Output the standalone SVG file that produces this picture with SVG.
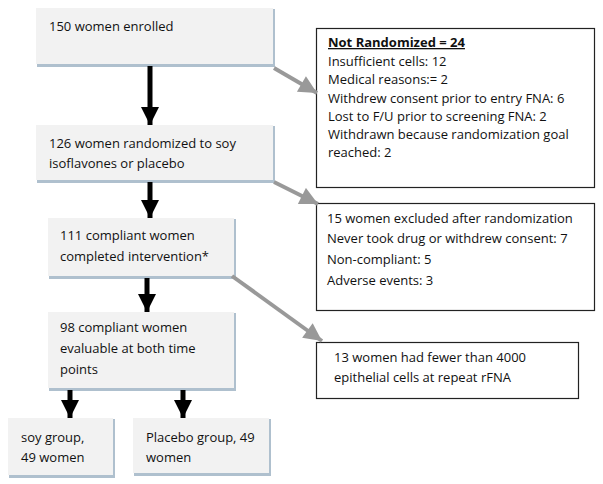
<svg xmlns="http://www.w3.org/2000/svg" width="603" height="484" viewBox="0 0 603 484">
<defs>
<style>
text{font-family:"Open Sans","Liberation Sans",sans-serif;font-size:13px;fill:#111}
.box{fill:#f2f2f2}
.sh{fill:#afc0ce}
.wb{fill:#fff;stroke:#222;stroke-width:1.2}
.blk{stroke:#000;stroke-width:5;fill:none}
.gry{stroke:#999;stroke-width:4;fill:none}
</style>
<marker id="ah" viewBox="0 0 10 10" refX="10" refY="5" markerWidth="3.6" markerHeight="3.6" orient="auto" markerUnits="strokeWidth"><path d="M0,0L10,5L0,10z" fill="#000"/></marker>
<marker id="ag" viewBox="0 0 10 10" refX="10" refY="5" markerWidth="5" markerHeight="4.5" orient="auto" markerUnits="strokeWidth"><path d="M0,0L10,5L0,10z" fill="#999"/></marker>
</defs>
<rect width="603" height="484" fill="#fff"/>
<g id="n1"><rect class="sh" x="37" y="9" width="238" height="58"/><rect class="box" x="36" y="8" width="237" height="56"/><text x="49" y="31">150 women enrolled</text></g>
<g id="n2"><rect class="sh" x="37" y="126" width="238" height="57"/><rect class="box" x="36" y="125" width="237" height="55"/><text x="49" y="148">126 women randomized to soy</text><text x="49" y="168">isoflavones or placebo</text></g>
<g id="n3"><rect class="sh" x="49" y="219" width="187" height="60"/><rect class="box" x="48" y="218" width="186" height="58"/><text x="60" y="240">111 compliant women</text><text x="60" y="261">completed intervention*</text></g>
<g id="n4"><rect class="sh" x="49" y="313" width="187" height="78"/><rect class="box" x="48" y="312" width="186" height="76"/><text x="60" y="332">98 compliant women</text><text x="60" y="353">evaluable at both time</text><text x="60" y="374">points</text></g>
<g id="n5"><rect class="sh" x="9" y="419" width="106" height="59"/><rect class="box" x="8" y="418" width="105" height="57"/><text x="21" y="442">soy group,</text><text x="21" y="462">49 women</text></g>
<g id="n6"><rect class="sh" x="134" y="419" width="137" height="57"/><rect class="box" x="133" y="418" width="136" height="55"/><text x="146" y="442">Placebo group, 49</text><text x="146" y="462">women</text></g>
<g id="n7"><rect class="wb" x="316.5" y="28.5" width="278" height="159"/>
<text x="328" y="47" font-weight="bold" text-decoration="underline">Not Randomized = 24</text>
<text x="328" y="66">Insufficient cells: 12</text>
<text x="328" y="84">Medical reasons:= 2</text>
<text x="328" y="103">Withdrew consent prior to entry FNA: 6</text>
<text x="328" y="121">Lost to F/U prior to screening FNA: 2</text>
<text x="328" y="139">Withdrawn because randomization goal</text>
<text x="328" y="157">reached: 2</text></g>
<g id="n8"><rect class="wb" x="316.5" y="203.5" width="278" height="107"/>
<text x="327" y="223">15 women excluded after randomization</text>
<text x="327" y="243">Never took drug or withdrew consent: 7</text>
<text x="327" y="264">Non-compliant: 5</text>
<text x="327" y="285">Adverse events: 3</text></g>
<g id="n9"><rect class="wb" x="316.5" y="342.5" width="262" height="56"/>
<text x="334" y="362">13 women had fewer than 4000</text>
<text x="334" y="382">epithelial cells at repeat rFNA</text></g>
<g id="edges">
<line class="blk" x1="150" y1="66" x2="150" y2="125" marker-end="url(#ah)"/>
<line class="blk" x1="150" y1="182" x2="150" y2="218" marker-end="url(#ah)"/>
<line class="blk" x1="147" y1="278" x2="147" y2="312" marker-end="url(#ah)"/>
<line class="blk" x1="70" y1="390" x2="70" y2="418" marker-end="url(#ah)"/>
<line class="blk" x1="183" y1="390" x2="183" y2="418" marker-end="url(#ah)"/>
<line class="gry" x1="274" y1="68" x2="317" y2="93" marker-end="url(#ag)"/>
<line class="gry" x1="274" y1="182" x2="318" y2="204" marker-end="url(#ag)"/>
<line class="gry" x1="232" y1="276" x2="322" y2="341" marker-end="url(#ag)"/>
</g>
</svg>
